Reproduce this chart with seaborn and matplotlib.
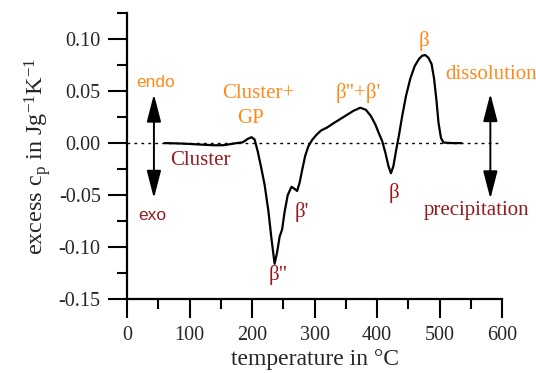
import matplotlib
matplotlib.use("Agg")
import matplotlib.pyplot as plt
import seaborn as sns
import pandas as pd
from matplotlib.ticker import MultipleLocator

# DSC trace: excess heat capacity vs. temperature
temperature = [60, 80, 100, 120, 140, 155, 170, 185, 193, 199, 204, 209, 214, 220,
               226, 231, 236, 240, 244, 248, 252, 257, 263, 268, 272, 276, 280, 285,
               290, 296, 303, 310, 320, 330, 346, 362, 373, 382, 390, 397, 403, 408,
               413, 418, 422, 426, 430, 435, 440, 446, 453, 460, 467, 472, 477, 482,
               487, 491, 495, 498, 502, 506, 520, 535]
excess_cp = [0.0, -0.0003, -0.0008, -0.0015, -0.0021, -0.0020, -0.0005, 0.0008,
             0.0040, 0.0057, 0.0035, -0.008, -0.022, -0.040, -0.065, -0.092, -0.116,
             -0.105, -0.090, -0.083, -0.066, -0.050, -0.042, -0.044, -0.046, -0.038,
             -0.026, -0.012, -0.003, 0.003, 0.008, 0.012, 0.015, 0.019, 0.025, 0.031,
             0.034, 0.032, 0.026, 0.018, 0.009, 0.002, -0.009, -0.022, -0.029, -0.022,
             -0.008, 0.008, 0.026, 0.045, 0.062, 0.074, 0.081, 0.084, 0.0846, 0.082,
             0.076, 0.062, 0.040, 0.020, 0.005, 0.0005, 0.0, 0.0]

x_ticks = [0, 100, 200, 300, 400, 500, 600]
y_ticks = [-0.15, -0.10, -0.05, 0.00, 0.05, 0.10]
y_tick_labels = ["-0.15", "-0.10", "-0.05", "0.00", "0.05", "0.10"]

ORANGE = "#ff8a1c"
DARKRED = "#951b1e"

sns.set_style("ticks")
plt.rcParams["font.family"] = ["Liberation Serif", "DejaVu Serif"]
plt.rcParams["mathtext.fontset"] = "custom"
plt.rcParams["mathtext.rm"] = "Liberation Serif"
plt.rcParams["mathtext.it"] = "Liberation Serif:italic"

fig = plt.figure(figsize=(5.36, 3.73), dpi=100)
ax = fig.add_axes([0.237, 0.198, 0.700, 0.767])

df = pd.DataFrame({"T": temperature, "cp": excess_cp})
ax.axhline(0, color="black", lw=1.0, ls=(0, (2, 3)), xmin=0, xmax=1, zorder=1)
sns.lineplot(data=df, x="T", y="cp", ax=ax, color="black", lw=1.6, sort=False, zorder=3)

ax.set_xlim(0, 600)
ax.set_ylim(-0.15, 0.125)
ax.set_xticks(x_ticks)
ax.set_yticks(y_ticks)
ax.set_yticklabels(y_tick_labels)
ax.xaxis.set_minor_locator(MultipleLocator(50))
ax.yaxis.set_minor_locator(MultipleLocator(0.025))
ax.tick_params(which="major", length=14, width=1.5, labelsize=14.5, pad=5, color="black")
ax.tick_params(which="minor", length=7, width=1.5, color="black")
for side in ("top", "right"):
    ax.spines[side].set_visible(False)
for side in ("left", "bottom"):
    ax.spines[side].set_linewidth(1.6)
    ax.spines[side].set_color("black")

ax.set_xlabel("temperature in °C", fontsize=17, labelpad=3)
ax.set_ylabel(r"excess c$_\mathrm{p}$ in Jg$^\mathrm{-1}$K$^\mathrm{-1}$", fontsize=17.5,
              labelpad=4)

# endo / exo and dissolution / precipitation arrows
arrow_kw = dict(arrowstyle="<|-|>,head_length=0.85,head_width=0.22",
                color="black", lw=1.4, mutation_scale=20, shrinkA=0, shrinkB=0)
ax.annotate("", xy=(43, 0.047), xytext=(43, -0.053), arrowprops=arrow_kw)
ax.annotate("", xy=(581, 0.0475), xytext=(581, -0.0535), arrowprops=arrow_kw)

sans = ["Liberation Sans", "DejaVu Sans"]
ax.text(46, 0.0587, "endo", color=ORANGE, fontsize=12.5, family=sans, ha="center", va="center")
ax.text(40, -0.0695, "exo", color=DARKRED, fontsize=12.5, family=sans, ha="center", va="center")

serif_kw = dict(fontsize=15, ha="center", va="center")
ax.text(210, 0.048, "Cluster+", color=ORANGE, **serif_kw)
ax.text(197, 0.0238, "GP", color=ORANGE, **serif_kw)
ax.text(118, -0.0166, "Cluster", color=DARKRED, **serif_kw)
ax.text(242, -0.127, 'β"', color=DARKRED, **serif_kw)
ax.text(279, -0.066, "β'", color=DARKRED, **serif_kw)
ax.text(427, -0.048, "β", color=DARKRED, **serif_kw)
ax.text(370, 0.048, "β\"+β'", color=ORANGE, **serif_kw)
ax.text(475, 0.098, "β", color=ORANGE, **serif_kw)
ax.text(509, 0.066, "dissolution", color=ORANGE, fontsize=15, ha="left", va="center",
        clip_on=False)
ax.text(559, -0.065, "precipitation", color=DARKRED, fontsize=15, ha="center", va="center",
        clip_on=False)

fig.savefig("out.png", dpi=100)
